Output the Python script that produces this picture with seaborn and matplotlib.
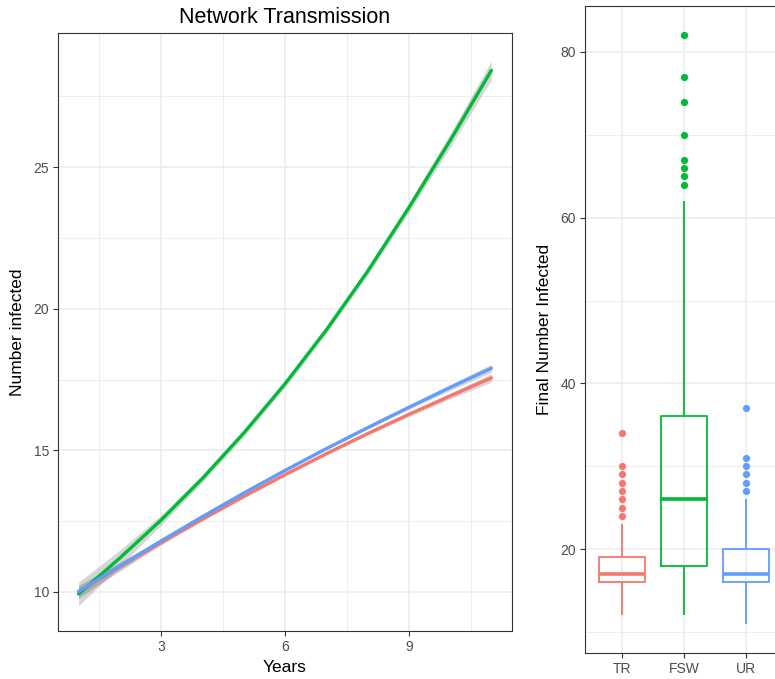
import numpy as np
import pandas as pd
import matplotlib
matplotlib.use("Agg")
import matplotlib.pyplot as plt
import seaborn as sns

# ---------------- data ----------------
groups = ["TR", "FSW", "UR"]
colors = ["#F8766D", "#00BA38", "#619CFF"]

years = [1, 2, 3, 4, 5, 6, 7, 8, 9, 10, 11]
fit_TR = [10.0, 10.88, 11.74, 12.57, 13.37, 14.14, 14.88, 15.59, 16.27, 16.92, 17.56]
fit_FSW = [9.93, 11.2, 12.54, 14.01, 15.61, 17.35, 19.25, 21.32, 23.57, 25.94, 28.42]
fit_UR = [10.02, 10.92, 11.8, 12.66, 13.49, 14.29, 15.06, 15.8, 16.52, 17.22, 17.9]
se_TR = [0.22, 0.14, 0.08, 0.05, 0.04, 0.04, 0.04, 0.05, 0.07, 0.10, 0.15]
se_FSW = [0.42, 0.28, 0.18, 0.13, 0.12, 0.12, 0.12, 0.13, 0.17, 0.24, 0.33]
se_UR = [0.22, 0.14, 0.08, 0.05, 0.04, 0.04, 0.04, 0.05, 0.07, 0.10, 0.15]

# box statistics
q1 = [16, 18, 16]
median = [17, 26, 17]
q3 = [19, 36, 20]
whisker_low = [12, 12, 11]
whisker_high = [23, 62, 26]
outliers = [
    [24, 25, 26, 27, 28, 29, 30, 34],
    [64, 65, 66, 67, 70, 74, 77, 82],
    [27, 28, 29, 30, 31, 37],
]

# ---------------- build tables ----------------
fits = {"TR": fit_TR, "FSW": fit_FSW, "UR": fit_UR}
ses = {"TR": se_TR, "FSW": se_FSW, "UR": se_UR}
line_df = pd.concat(
    [pd.DataFrame({"Years": years, "Number infected": fits[g], "se": ses[g], "group": g})
     for g in groups],
    ignore_index=True,
)

rows = []
for i, g in enumerate(groups):
    vals = ([whisker_low[i]] + [q1[i]] * 40 + [median[i]] * 40 + [q3[i]] * 40
            + [whisker_high[i]] + outliers[i])
    rows += [(g, v) for v in vals]
box_df = pd.DataFrame(rows, columns=["group", "Final Number Infected"])

# ---------------- style ----------------
sns.set_style("white")
plt.rcParams["font.family"] = ["Liberation Sans", "DejaVu Sans"]
grid_c = "#EBEBEB"
border_c = "#333333"
tick_c = "#4D4D4D"

W, H = 775, 679
fig = plt.figure(figsize=(W / 100, H / 100), dpi=100)

def px_axes(l, t, r, b):
    return fig.add_axes([l / W, 1 - b / H, (r - l) / W, (b - t) / H])

ax1 = px_axes(58, 33, 512, 631)
ax2 = px_axes(585, 6, 783, 653)

for ax in (ax1, ax2):
    for s in ax.spines.values():
        s.set_color(border_c)
        s.set_linewidth(0.8)
    ax.tick_params(which="major", bottom=True, left=True, length=3.5, width=0.8,
                   color=border_c, labelsize=10, labelcolor=tick_c, pad=3)
    ax.tick_params(which="minor", bottom=False, left=False, length=0)
    ax.set_axisbelow(True)

# ---------------- left panel ----------------
pal = dict(zip(groups, colors))
for g in groups:
    d = line_df[line_df.group == g]
    ax1.fill_between(d["Years"], d["Number infected"] - d["se"],
                     d["Number infected"] + d["se"], color="#999999",
                     alpha=0.4, lw=0, zorder=2)
sns.lineplot(data=line_df, x="Years", y="Number infected", hue="group",
             hue_order=groups, palette=pal, linewidth=2.4, legend=False,
             ax=ax1, zorder=3, solid_joinstyle="round")
ax1.set_xlim(0.5, 11.5)
ax1.set_ylim(8.62, 29.74)
ax1.set_xticks([3, 6, 9])
ax1.set_xticks([1.5, 4.5, 7.5, 10.5], minor=True)
ax1.set_yticks([10, 15, 20, 25])
ax1.set_yticks([12.5, 17.5, 22.5, 27.5], minor=True)
ax1.grid(which="major", color=grid_c, lw=1.1)
ax1.grid(which="minor", color=grid_c, lw=0.6)
ax1.set_xlabel("Years", fontsize=12.5, color="black", labelpad=4)
ax1.set_ylabel("Number infected", fontsize=12.5, color="black", labelpad=6)
ax1.set_title("Network Transmission", fontsize=15.5, color="black", pad=7)

# ---------------- right panel ----------------
sns.boxplot(data=box_df, x="group", y="Final Number Infected", hue="group",
            order=groups, hue_order=groups, palette=pal, fill=False,
            width=0.75, linewidth=1.3, whis=1.5, legend=False, ax=ax2,
            medianprops={"linewidth": 2.6}, zorder=3)
for c, col in zip(ax2.containers, colors):
    for cap in c.caps:
        cap.set_visible(False)
    for f in ([c.fliers] if not isinstance(c.fliers, (list, tuple)) else c.fliers):
        try:
            f.set_marker("o")
            f.set_markersize(5.2)
            f.set_markerfacecolor(col)
            f.set_markeredgecolor(col)
            f.set_markeredgewidth(0)
        except AttributeError:
            pass
ax2.set_xlim(-0.6, 2.6)
ax2.set_ylim(7.45, 85.55)
ax2.set_yticks([20, 40, 60, 80])
ax2.set_yticks([10, 30, 50, 70], minor=True)
ax2.grid(which="major", color=grid_c, lw=1.1)
ax2.grid(which="minor", axis="y", color=grid_c, lw=0.6)
ax2.set_xlabel("")
ax2.set_ylabel("Final Number Infected", fontsize=12.5, color="black", labelpad=6)

fig.savefig("out.png", dpi=100)
